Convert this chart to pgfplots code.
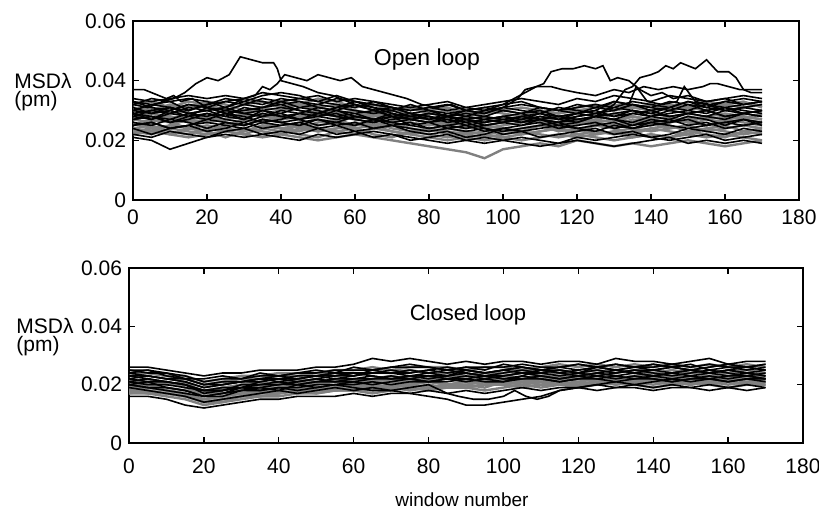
\documentclass[border=0pt]{standalone}
\usepackage{pgfplots}
\pgfplotsset{compat=1.18}
\usepackage{pgfplotstable}
\usepackage{fontspec}
\setmainfont{Liberation Sans}

% values in units of 0.001 pm
\pgfplotstableread{
x   t1 t2 t3 t4 t5 t6 t7 t8 t9 t10 t11 t12 t13 t14 t15 t16 t17 t18 t19 t20 t21 t22 t23 t24 t25 t26 t27 t28
0   34 31 29 27 25 23 21 28 26 30 24 33 24 27 22 32 29 25 31 23 27 32 22 26 30 24 28 33
5   33 30 28 26 26 22 20 30 24 32 25 31 23 29 23 34 27 27 29 24 28 33 21 25 31 22 29 32
10  34 32 27 28 24 24 17 29 25 31 23 30 22 28 25 33 30 26 30 22 26 31 23 27 29 24 27 33
15  35 31 29 27 25 23 19 31 27 29 22 32 21 26 24 30 28 24 32 24 28 33 22 26 30 25 29 34
20  34 33 28 26 26 22 21 30 28 30 24 31 22 27 23 32 31 23 31 25 29 32 21 24 32 23 28 33
25  35 32 30 27 25 23 22 28 26 31 23 33 23 29 21 34 29 25 29 24 27 30 23 26 30 24 27 31
30  34 30 29 28 24 24 21 31 25 33 22 32 22 27 23 33 27 27 30 23 26 32 24 25 29 26 29 34
35  36 31 28 29 26 23 22 30 27 32 24 34 21 26 25 35 30 26 31 25 28 33 22 27 31 24 28 33
40  35 33 30 27 25 22 21 29 26 34 23 33 22 28 24 36 28 24 32 24 29 31 23 26 30 25 27 32
45  34 32 29 28 26 24 20 31 24 33 25 31 21 27 22 35 29 25 30 23 27 32 22 27 32 26 28 33
50  35 31 28 27 27 23 22 30 26 31 24 32 20 29 21 33 31 23 29 25 28 34 24 25 30 24 30 32
55  33 32 30 26 25 24 21 28 27 30 23 34 21 28 23 32 30 24 31 26 29 33 22 26 29 25 29 31
60  34 30 29 28 26 25 22 29 25 32 22 33 22 27 24 31 28 26 32 24 27 31 23 28 30 23 28 33
65  33 29 27 29 24 26 23 30 27 31 24 31 21 28 22 33 27 25 30 25 26 32 21 27 28 24 30 32
70  32 30 28 27 25 24 22 31 26 29 23 30 20 29 21 31 29 23 28 26 28 30 22 25 30 25 27 31
75  31 31 27 26 24 23 21 29 28 28 22 32 19 27 23 30 27 22 29 24 25 31 20 26 29 23 28 30
80  32 29 26 25 23 22 20 28 27 29 21 30 18 28 24 31 26 24 27 23 26 30 21 24 28 22 27 31
85  33 30 28 26 24 21 19 27 25 28 20 29 17 26 22 32 27 23 28 24 24 31 22 25 26 23 28 30
90  31 28 27 25 23 22 20 28 24 27 21 30 16 27 23 30 25 22 26 23 25 29 20 26 27 21 27 31
95  32 29 26 24 24 21 19 27 25 28 20 29 14 26 22 31 26 23 27 22 23 30 21 24 28 22 25 30
100 33 30 27 25 22 22 20 26 24 27 21 31 17 28 21 32 27 24 28 23 24 29 20 23 26 24 26 31
105 34 31 28 26 23 23 19 27 23 26 20 30 18 27 22 33 26 22 29 24 25 28 21 24 27 23 28 32
110 33 30 29 27 24 22 18 28 25 27 21 29 19 26 23 31 28 23 27 25 26 30 20 25 26 21 27 31
115 32 29 27 26 25 21 19 27 24 28 22 31 18 25 24 30 27 24 26 23 24 29 19 26 28 22 28 30
120 34 31 28 25 24 22 20 26 26 27 21 30 20 27 22 32 29 23 28 24 25 30 21 24 27 23 26 31
125 33 32 29 27 23 23 19 28 25 28 22 29 19 26 21 31 28 25 29 22 26 31 20 25 26 24 27 32
130 35 30 28 26 25 22 18 27 24 29 23 30 18 25 20 33 27 24 31 23 24 32 21 26 27 22 29 31
135 34 31 30 28 24 23 19 26 26 30 21 32 19 27 21 32 29 22 30 24 25 31 22 24 28 23 28 33
140 33 32 29 27 26 24 20 28 25 28 22 31 18 26 22 30 28 24 29 23 26 30 21 25 27 21 27 32
145 35 30 28 26 25 23 21 27 27 29 21 33 19 24 21 31 30 25 31 24 27 32 20 26 26 22 28 31
150 34 31 29 27 24 22 19 29 26 30 23 32 20 25 22 33 29 23 30 25 25 31 21 27 28 24 26 33
155 33 33 30 28 25 24 20 28 25 29 22 30 19 27 21 32 28 24 32 23 26 30 22 25 27 23 28 31
160 34 32 28 27 26 23 19 27 27 31 21 31 18 26 22 30 30 25 31 24 24 32 20 26 28 22 29 33
165 35 31 29 28 25 22 20 29 26 30 23 32 19 27 21 31 29 23 29 25 25 33 21 27 27 24 28 32
170 34 32 30 27 26 23 19 28 25 29 22 33 20 26 20 32 28 24 30 24 26 31 22 25 29 23 27 33
}\openloop

\pgfplotstableread{
x   c1 c2 c3 c4 c5 c6 c7 c8 c9 c10 c11 c12 c13 c14 c15 c16 c17 c18 c19 c20 c21 c22 c23 c24 c25 c26 c27 c28
0   26 24 22 21 20 18 16 23 19 25 17 20 22 24 18 21 23 19 22 20 25 17 21 24 18 21 23 20
5   26 24 23 21 19 18 16 22 20 24 17 21 20 25 19 22 23 19 21 20 25 18 22 23 17 20 24 19
10  25 23 22 20 19 17 15 21 18 24 16 19 21 23 18 20 22 18 21 19 24 17 21 22 17 20 23 18
15  24 23 21 20 18 16 13 20 17 22 15 18 19 22 17 21 21 17 20 18 23 16 20 22 16 19 22 17
20  23 21 19 18 16 15 12 18 14 22 13 16 17 20 15 17 19 15 18 17 21 14 17 20 14 18 20 16
25  24 22 20 19 17 16 13 18 15 23 14 17 18 21 16 19 20 16 19 17 22 14 18 20 15 18 21 16
30  24 23 21 20 18 17 14 19 16 22 16 19 20 21 17 18 21 17 19 18 22 15 20 21 16 19 22 18
35  25 23 22 20 19 17 15 21 18 24 16 18 21 22 18 20 21 18 20 19 23 16 20 22 17 19 22 18
40  25 24 21 21 18 18 15 22 17 23 17 19 20 23 19 20 22 18 21 19 23 16 20 22 17 20 23 19
45  25 24 22 21 20 17 16 21 18 24 18 18 22 22 19 21 22 19 20 20 24 17 21 23 18 20 23 19
50  26 24 23 20 19 18 16 22 19 25 17 19 21 23 18 22 23 19 21 20 24 17 22 23 18 21 24 20
55  26 25 22 22 20 19 16 23 18 24 18 20 21 24 19 21 23 19 22 21 25 18 21 24 18 21 23 20
60  27 25 23 21 21 18 17 24 19 26 18 19 22 23 20 20 23 20 22 21 25 18 22 24 19 21 24 20
65  29 26 24 22 20 19 16 23 20 25 17 18 21 25 19 22 24 20 23 21 25 18 22 24 19 22 24 21
70  28 25 24 23 21 20 17 22 19 26 18 18 22 24 20 21 24 21 22 22 26 19 23 25 19 22 24 20
75  29 26 23 22 22 19 17 23 20 27 19 17 21 25 20 22 24 20 23 21 26 18 22 24 20 22 25 21
80  28 26 24 23 21 20 18 22 21 26 18 16 22 24 19 21 25 21 23 22 26 19 23 25 19 21 24 21
85  27 26 25 22 22 19 17 23 20 25 19 15 24 23 20 23 24 20 22 22 25 19 23 26 20 22 24 21
90  28 25 24 23 21 20 18 24 19 26 19 13 23 25 21 22 25 21 23 21 26 19 24 25 20 22 25 22
95  27 26 23 24 22 21 17 23 20 25 18 13 22 24 20 21 24 21 22 22 26 20 23 24 19 23 24 21
100 28 26 24 23 21 20 18 22 21 27 19 14 23 25 20 22 25 21 23 22 26 20 23 25 21 22 24 21
105 28 25 25 22 23 21 19 23 20 26 20 15 24 26 21 21 24 22 24 21 27 19 24 26 20 22 25 22
110 27 26 24 23 22 20 18 25 21 25 19 16 23 25 21 22 25 21 23 22 26 20 24 25 21 23 24 22
115 28 27 25 24 21 21 19 24 22 26 20 18 22 24 20 23 25 22 22 23 26 20 23 26 21 22 25 21
120 28 26 24 23 22 20 19 23 21 27 19 19 24 25 21 22 24 22 23 22 27 20 24 25 20 23 24 22
125 27 27 25 24 23 21 18 24 20 26 20 20 23 26 22 21 26 21 24 23 26 20 23 26 21 22 25 22
130 29 26 24 23 22 20 19 25 21 25 21 21 22 27 20 22 25 22 23 22 27 21 24 25 21 23 24 21
135 28 27 25 22 23 21 19 24 22 26 20 20 23 26 21 21 24 21 24 23 26 20 25 26 20 22 25 22
140 28 26 25 24 22 20 18 23 21 27 19 21 24 25 22 22 25 22 23 22 26 21 24 27 21 23 24 22
145 27 27 24 23 21 21 19 24 22 26 20 22 22 26 21 23 26 21 24 23 27 20 23 26 21 22 25 21
150 28 26 25 24 22 20 19 25 21 25 21 21 23 27 20 22 25 22 23 22 26 21 24 25 20 23 24 22
155 29 27 24 23 23 21 18 24 20 26 20 22 22 25 22 23 24 21 24 21 27 20 25 26 21 22 25 22
160 27 26 25 24 22 20 19 25 21 27 19 21 23 26 21 22 25 22 23 22 26 21 24 27 21 23 24 21
165 28 27 24 23 23 21 18 24 22 26 20 22 22 25 20 23 26 21 24 23 26 20 23 26 20 23 25 22
170 28 26 25 24 22 20 19 23 21 27 21 21 23 26 22 22 25 22 23 22 27 20 24 25 21 22 24 22
}\closedloop

\pgfplotsset{
  panel/.style={
    scale only axis,
    xmin=0, xmax=180, ymin=0, ymax=60,
    xtick={0,20,...,180},
    ytick={0,20,40,60},
    yticklabels={0,0.02,0.04,0.06},
    tick align=inside,
    major tick length=3pt,
    axis line style={line width=0.8pt},
    tick style={line width=0.7pt, black},
    ticklabel style={font=\fontsize{10.5}{12}\selectfont},
    /pgf/number format/assume math mode=true,
    clip=true,
  },
  grayline/.style={black!50, line width=1.2pt},
  blackline/.style={black, line width=0.8pt},
}

\begin{document}
\begin{tikzpicture}
\useasboundingbox (0,0) rectangle (409.5pt,-256pt);

% ---------------- Open loop ----------------
\begin{axis}[panel, at={(66.5pt,-100pt)}, anchor=south west,
  width=333pt, height=89.5pt,
  xticklabel style={yshift=-1.5pt}]
\pgfplotsinvokeforeach{2,4,6,9,11,13,14,15,18,20,22,25,27}{
  \addplot[grayline] table[x=x, y=t#1] {\openloop};
}
\pgfplotsinvokeforeach{1,3,5,7,8,10,12,16,17,19,21,23,24,26,28}{
  \addplot[blackline] table[x=x, y=t#1] {\openloop};
}
% A
\addplot[blackline] coordinates {(0,32)(4,31)(8,33)(11,34)(14,36)(17,39)(20,41)(23,40)(26,42)(28,46)(29,48)(32,47)(35,46)(38,46)(39,44)(40,40)(43,39)(46,38)(50,36)(54,35)(58,33)(62,31)(66,30)(70,28)(75,27)(80,28)(85,26)(90,27)(95,25)(100,26)(105,28)(110,27)(115,25)(120,26)(125,28)(130,27)(135,25)(140,27)(145,26)(150,28)(155,27)(160,25)(165,27)(170,26)};
% B
\addplot[blackline] coordinates {(0,37)(3,37)(5,36)(7,35)(9,34)(11,35)(13,33)(16,34)(20,31)(25,30)(30,32)(35,31)(40,33)(45,34)(50,33)(55,35)(60,33)(65,32)(70,31)(75,29)(80,30)(85,28)(90,29)(95,28)(100,30)(105,29)(110,31)(115,30)(120,29)(125,31)(130,30)(135,32)(140,31)(145,30)(150,32)(155,31)(160,30)(165,31)(170,30)};
% C
\addplot[blackline] coordinates {(0,29)(5,30)(10,31)(15,30)(20,32)(25,33)(30,34)(33,35)(35,38)(37,37)(39,39)(41,42)(44,41)(47,40)(50,42)(53,41)(56,40)(59,41)(62,38)(65,37)(68,36)(71,35)(74,34)(78,32)(82,31)(86,32)(90,30)(95,31)(100,30)(105,29)(110,30)(115,28)(120,29)(125,30)(130,28)(135,29)(140,30)(145,28)(150,29)(155,30)(160,28)(165,29)(170,30)};
% D
\addplot[blackline] coordinates {(0,27)(5,28)(10,26)(15,27)(20,29)(25,28)(30,27)(35,29)(40,28)(45,27)(50,29)(55,28)(60,27)(65,26)(70,27)(75,28)(80,27)(85,29)(90,28)(95,30)(100,32)(103,34)(106,36)(109,38)(111,39)(113,43)(116,44)(119,44)(122,45)(125,44)(127,45)(129,40)(131,41)(134,40)(137,37)(140,35)(143,36)(146,34)(150,35)(155,33)(160,34)(165,32)(170,33)};
% E
\addplot[blackline] coordinates {(0,25)(5,26)(10,24)(15,25)(20,27)(25,26)(30,25)(35,27)(40,26)(45,25)(50,27)(55,26)(60,25)(65,27)(70,26)(75,25)(80,24)(85,25)(90,24)(95,25)(100,26)(105,25)(110,27)(115,26)(120,27)(125,28)(130,32)(133,37)(135,38)(137,41)(140,42)(142,43)(144,45)(146,44)(148,46)(150,45)(152,44)(155,47)(158,43)(161,43)(163,41)(165,37)(167,36)(170,36)};
% F
\addplot[blackline] coordinates {(0,30)(5,29)(10,31)(15,29)(20,30)(25,31)(30,29)(35,30)(40,31)(45,30)(50,29)(55,31)(60,30)(65,29)(70,30)(75,28)(80,29)(85,28)(90,30)(95,29)(100,31)(104,34)(106,37)(109,38)(113,38)(116,37)(120,36)(125,35)(130,37)(134,36)(138,38)(142,37)(146,38)(150,37)(154,38)(156,39)(158,39)(161,38)(164,37)(167,37)(170,37)};
% G
\addplot[blackline] coordinates {(0,28)(5,27)(10,29)(15,28)(20,27)(25,29)(30,28)(35,26)(40,27)(45,29)(50,28)(55,27)(60,28)(65,27)(70,26)(75,27)(80,26)(85,27)(90,26)(95,27)(100,28)(105,27)(110,29)(115,28)(120,29)(125,30)(130,33)(134,32)(136,38)(139,33)(143,32)(147,33)(149,38)(152,33)(156,32)(160,33)(165,34)(170,33)};
\end{axis}

% ---------------- Closed loop ----------------
\begin{axis}[panel, at={(64.5pt,-221.5pt)}, anchor=south west,
  width=337pt, height=87.5pt,
  xticklabel style={yshift=-4.5pt}]
\pgfplotsinvokeforeach{2,4,6,9,11,13,15,16,18,20,22,25,27}{
  \addplot[grayline] table[x=x, y=c#1] {\closedloop};
}
\pgfplotsinvokeforeach{1,3,5,7,8,10,12,14,17,19,21,23,24,26,28}{
  \addplot[blackline] table[x=x, y=c#1] {\closedloop};
}
\addplot[blackline] coordinates {(0,19)(5,18)(10,17)(15,16)(20,14)(25,15)(30,16)(35,17)(40,18)(45,17)(50,18)(55,19)(60,18)(65,19)(70,18)(75,19)(80,20)(85,17)(88,16)(92,15)(96,15)(100,16)(103,18)(106,16)(109,15)(112,16)(115,18)(120,19)(125,20)(130,19)(135,20)(140,19)(145,20)(150,19)(155,20)(160,19)(165,20)(170,19)};
\end{axis}

% ---------------- labels ----------------
\node[anchor=base west, inner sep=0pt, font=\fontsize{10.5}{12}\selectfont] at (7pt,-44.5pt) {MSDλ};
\node[anchor=base west, inner sep=0pt, font=\fontsize{10.5}{12}\selectfont] at (7pt,-53.5pt) {(pm)};
\node[anchor=base west, inner sep=0pt, font=\fontsize{10.5}{12}\selectfont] at (8pt,-167pt) {MSDλ};
\node[anchor=base west, inner sep=0pt, font=\fontsize{10.5}{12}\selectfont] at (8pt,-176pt) {(pm)};
\node[font=\fontsize{11.5}{13}\selectfont] at (213.5pt,-30pt) {Open loop};
\node[font=\fontsize{11}{13}\selectfont] at (234pt,-157.5pt) {Closed loop};
\node[font=\fontsize{9.5}{12}\selectfont] at (231pt,-250pt) {window number};
\end{tikzpicture}
\end{document}
